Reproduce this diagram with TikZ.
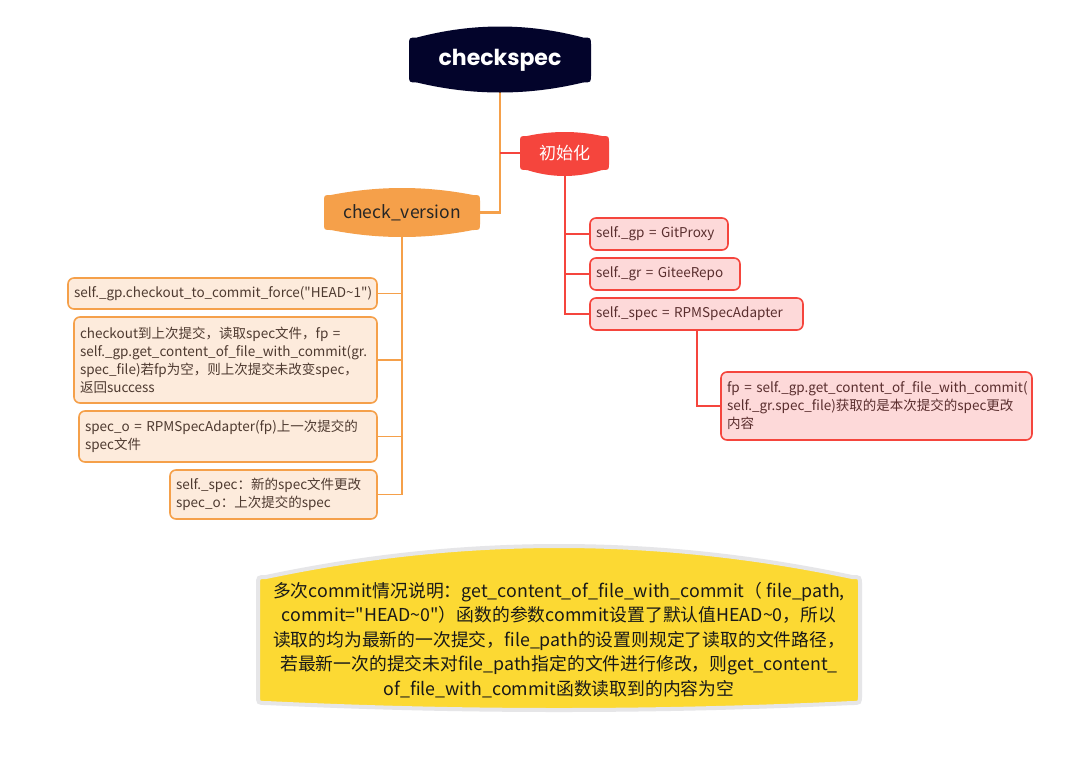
\documentclass[tikz,border=0pt]{standalone}
\usepackage{fontspec}
\setmainfont{Noto Sans CJK SC}[Ligatures=TeXOff]
\newfontfamily\poppins{Poppins}
\usetikzlibrary{calc}
\definecolor{navy}{HTML}{03042B}
\definecolor{redm}{HTML}{F5453D}
\definecolor{orangem}{HTML}{F5A04A}
\definecolor{redlight}{HTML}{FDD9D9}
\definecolor{orangelight}{HTML}{FDEBDC}
\definecolor{yellowm}{HTML}{FCD933}
\definecolor{grayline}{HTML}{E6E6E8}
\definecolor{boxtext}{HTML}{4E3A30}
\definecolor{redtext}{HTML}{5A2E2E}
\pgfdeclarelayer{back}\pgfdeclarelayer{mid}\pgfsetlayers{back,mid,main}
% #1 node, #2 style, #3 half width, #4 half height, #5 bulge top, #6 bulge bottom, #7 corner radius
\newcommand\bulgeshape[7]{%
\begin{pgfonlayer}{mid}
\path[#2] let \p0=(#1.center) in
 ({\x0-#3},{\y0+#4-#7}) -- ({\x0-#3},{\y0-#4+#7})
 .. controls ({\x0-#3},{\y0-#4}) .. ({\x0-#3+#7},{\y0-#4})
 .. controls ({\x0-(#3-#7)/3},{\y0-#4-4/3*#6}) and ({\x0+(#3-#7)/3},{\y0-#4-4/3*#6}) .. ({\x0+#3-#7},{\y0-#4})
 .. controls ({\x0+#3},{\y0-#4}) .. ({\x0+#3},{\y0-#4+#7})
 -- ({\x0+#3},{\y0+#4-#7})
 .. controls ({\x0+#3},{\y0+#4}) .. ({\x0+#3-#7},{\y0+#4})
 .. controls ({\x0+(#3-#7)/3},{\y0+#4+4/3*#5}) and ({\x0-(#3-#7)/3},{\y0+#4+4/3*#5}) .. ({\x0-#3+#7},{\y0+#4})
 .. controls ({\x0-#3},{\y0+#4}) .. cycle;
\end{pgfonlayer}}
\tikzset{
  obox/.style={draw=orangem, fill=orangelight, line width=1.6pt, rounded corners=6pt,
    text=boxtext, align=left, inner xsep=6pt, inner ysep=0pt,
    font=\fontsize{13.5}{18}\selectfont},
  rbox/.style={draw=redm, fill=redlight, line width=1.6pt, rounded corners=6pt,
    text=redtext, align=left, inner xsep=6pt, inner ysep=0pt,
    font=\fontsize{13.5}{18}\selectfont},
  oline/.style={draw=orangem, line width=2.2pt},
  rline/.style={draw=redm, line width=2pt},
}
\begin{document}
\begin{tikzpicture}[x=1pt,y=-1pt]
\useasboundingbox (0,0) rectangle (1083,761);
\begin{pgfonlayer}{back}
\fill[white] (0,0) rectangle (1083,761);
\end{pgfonlayer}

% main topics
\node[font=\poppins\bfseries\fontsize{22}{26}\selectfont, text=white] (root) at (500,60) {checkspec};
\bulgeshape{root}{fill=navy}{91pt}{22.5pt}{11pt}{10pt}{8pt}

\node[font=\fontsize{17}{20}\selectfont, text=white] (init) at (564.5,153) {初始化};
\bulgeshape{init}{fill=redm}{44.5pt}{17pt}{4pt}{6pt}{7pt}

\node[font=\fontsize{17.5}{20}\selectfont, text=black!85] (cv) at (402,212.5) {check\_version};
\bulgeshape{cv}{fill=orangem}{78pt}{17.5pt}{7pt}{7pt}{7pt}

% red boxes
\node[rbox, minimum width=138pt, minimum height=32pt, text width=126pt] (r1) at (659,234) {self.\_gp = GitProxy};
\node[rbox, minimum width=150pt, minimum height=32pt, text width=138pt] (r2) at (665,274) {self.\_gr = GiteeRepo};
\node[rbox, minimum width=213pt, minimum height=32pt, text width=201pt] (r3) at (696.5,314) {self.\_spec = RPMSpecAdapter};
\node[rbox, minimum width=311pt, minimum height=68pt, text width=299pt] (r4) at (876.5,406)
  {fp = self.\_gp.get\_content\_of\_file\_with\_commit(\\self.\_gr.spec\_file)获取的是本次提交的spec更改\\内容};

% orange boxes
\node[obox, minimum width=309pt, minimum height=31pt, text width=297pt] (o1) at (222.5,293.5)
  {self.\_gp.checkout\_to\_commit\_force("HEAD{\char`\~}1")};
\node[obox, minimum width=303pt, minimum height=86pt, text width=291pt] (o2) at (225.5,360)
  {checkout到上次提交，读取spec文件，fp =\\self.\_gp.get\_content\_of\_file\_with\_commit(gr.\\spec\_file)若fp为空，则上次提交未改变spec，\\返回success};
\node[obox, minimum width=298pt, minimum height=51pt, text width=286pt] (o3) at (228,436.5)
  {spec\_o = RPMSpecAdapter(fp)上一次提交的\\spec文件};
\node[obox, minimum width=207pt, minimum height=49pt, text width=195pt] (o4) at (273.5,494.5)
  {self.\_spec：新的spec文件更改\\spec\_o：上次提交的spec};

% note
\node[font=\fontsize{17.8}{24.5}\selectfont, text=black!90, align=center] (note) at (559,640)
  {多次commit情况说明：get\_content\_of\_file\_with\_commit（ file\_path,\\
   commit="HEAD{\char`\~}0"）函数的参数commit设置了默认值HEAD{\char`\~}0，所以\\
   读取的均为最新的一次提交，file\_path的设置则规定了读取的文件路径，\\
   若最新一次的提交未对file\_path指定的文件进行修改，则get\_content\_\\
   of\_file\_with\_commit函数读取到的内容为空};
\bulgeshape{note}{fill=yellowm, draw=grayline, line width=4pt}{301pt}{63pt}{31pt}{7pt}{8pt}

% connectors
\begin{pgfonlayer}{back}
\draw[oline] (root.center) |- (cv.center);
\draw[rline] (root.center |- init.center) -- (init.center);
\draw[rline] (init.center) |- (r1.west);
\draw[rline] (init.center) |- (r2.west);
\draw[rline] (init.center) |- (r3.west);
\draw[rline] (r3.center) |- (r4.west);
\draw[oline, line width=1.8pt] (cv.center) |- (o1.east);
\draw[oline, line width=1.8pt] (cv.center) |- (o2.east);
\draw[oline, line width=1.8pt] (cv.center) |- (o3.east);
\draw[oline, line width=1.8pt] (cv.center) |- (o4.east);
\end{pgfonlayer}
\end{tikzpicture}
\end{document}
